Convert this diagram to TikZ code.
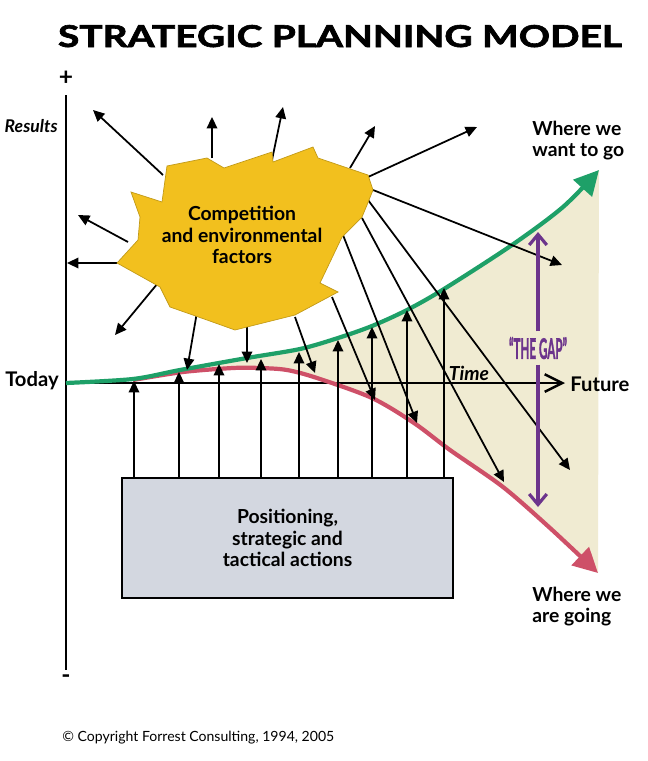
\documentclass[tikz,border=0pt]{standalone}
\usepackage{fontspec}
\setmainfont{Lato}
\newfontfamily\heavyfont[FakeBold=2]{Lato}
\usetikzlibrary{arrows.meta,positioning}
\definecolor{goalgreen}{RGB}{30,160,104}
\definecolor{driftred}{RGB}{206,80,104}
\definecolor{gappurple}{RGB}{108,52,140}
\definecolor{gapbeige}{RGB}{240,235,210}
\definecolor{forcegold}{RGB}{242,192,30}
\definecolor{actiongray}{RGB}{211,215,224}

\begin{document}
\begin{tikzpicture}[x=0.02cm,y=-0.02cm,
  every node/.style={font=\bfseries},
  ray/.style={-{Triangle[length=6.5pt,width=6pt]},line width=1pt},
  axis/.style={line width=1.4pt},
  trend/.style={line width=2.4pt,-{Triangle[length=14pt,width=14pt]}},
  gapline/.style={gappurple,line width=1.8pt,-{Straight Barb[length=6pt,width=10pt]}},
  endtext/.style={align=left,anchor=north west,inner sep=0pt,
    font=\bfseries\fontsize{11}{12}\selectfont},
  actbox/.style={draw,line width=0.9pt,fill=actiongray,align=center,
    minimum width=6.62cm,minimum height=2.4cm,
    font=\bfseries\fontsize{11}{12.2}\selectfont},
]
\useasboundingbox (0,0) rectangle (647,761);

% title
\node[anchor=base,inner sep=0pt] (title) at (340,47)
  {\resizebox{11.28cm}{0.44cm}{\heavyfont\bfseries STRATEGIC PLANNING MODEL}};

% the gap between the two curves
\fill[gapbeige] plot[smooth] coordinates {(180,370) (247,358) (300,349)
  (338,338) (372,326) (407,310) (444,289) (512,245) (563,207) (599,170)}
  -- plot[smooth] coordinates {(598,573) (550,528) (503,487) (450,450)
  (414,423) (372,398) (317,378) (287,370) (260,368) (233,368) (183,372)}
  -- cycle;

% axes
\coordinate (top) at (66,95);
\coordinate (bottom) at (66,670);
\coordinate (today) at (66,383);
\coordinate (future) at (565,383);
\draw[axis] (top) -- (bottom);
\draw[axis,-{Straight Barb[length=10pt,width=10pt]}] (today) -- (future);
\node[font=\bfseries\fontsize{14}{14}\selectfont] (plus) at (66,78) {+};
\node[font=\bfseries\fontsize{14}{14}\selectfont] (minus) at (66,679) {-};
\node[anchor=east,font=\bfseries\itshape\fontsize{10}{10}\selectfont,inner sep=0pt]
  (results) at (58,126) {Results};
\node[anchor=east,font=\bfseries\fontsize{11.5}{12}\selectfont,inner sep=0pt]
  (todaytext) at (59,381) {Today};
\node[anchor=west,font=\bfseries\fontsize{11.5}{12}\selectfont,inner sep=0pt]
  (futuretext) at (570,384) {Future};
\node[font=\bfseries\itshape\fontsize{11}{11}\selectfont,inner sep=0pt]
  (time) at (469,373) {Time};

% where we are going / where we want to go
\draw[trend,driftred] plot[smooth] coordinates {(133,380) (183,372) (233,368)
  (260,368) (287,370) (317,378) (372,398) (414,423) (450,450) (503,487)
  (550,528) (598,573)};
\draw[trend,goalgreen] plot[smooth] coordinates {(66,383) (133,379) (180,370)
  (247,358) (300,349) (338,338) (372,326) (407,310) (444,289) (512,245)
  (563,207) (599,170)};
\node[endtext] (wantgo) at (532,121) {Where we\\want to go};
\node[endtext] (aregoing) at (532,587) {Where we\\are going};

% the actions
\node[actbox] (actions) at (287.5,538)
  {Positioning,\\strategic and\\tactical actions};
\foreach \x/\y [count=\i] in {134/381,179/372,219/364,261/359,299/352,
  338/340,372/327,407/310,444/288}
{
  \coordinate (hit\i) at (\x,\y);
  \draw[ray] (hit\i |- actions.north) -- (hit\i);
}

% the environment
\foreach \sx/\sy/\ex/\ey [count=\i] in {163/175/93/110,212/158/212/117,
  272/160/283/107,350/168/375/126,368/177/477/127,373/190/562/265,
  368/200/570/470,362/218/504/482,343/235/417/423,332/297/375/400,
  295/317/315/373,247/327/247/363,197/312/187/370,158/283/115/335,
  117/263/67/263,128/242/78/215}
{
  \coordinate (src\i) at (\sx,\sy);
  \coordinate (dst\i) at (\ex,\ey);
  \draw[ray] (src\i) -- (dst\i);
}
\draw[fill=forcegold,draw=forcegold!80!black,line width=0.4pt]
  (131,192) -- (162,202) -- (167,166) -- (207,158) -- (224,168) -- (272,152)
  -- (273,162) -- (313,147) -- (318,158) -- (368,175) -- (373,190)
  -- (367,205) -- (362,217) -- (342,237) -- (320,283) -- (338,292)
  -- (295,315) -- (235,330) -- (207,320) -- (170,307) -- (160,287)
  -- (117,263) -- (138,240) -- (140,217) -- cycle;
\node[align=center,font=\bfseries\fontsize{11}{12.2}\selectfont] (forces)
  at (242,235) {Competition\\and environmental\\factors};

% the gap
\node[text=gappurple,inner xsep=0pt,inner ysep=3pt] (gap) at (538,348)
  {\resizebox{1.16cm}{0.44cm}{\heavyfont\bfseries “THE GAP”}};
\coordinate (gaptop) at (538,232);
\coordinate (gapbot) at (538,507);
\draw[gapline] (gap.north) -- (gaptop);
\draw[gapline] (gap.south) -- (gapbot);

% copyright
\node[anchor=west,font=\fontsize{8}{8}\selectfont,inner sep=0pt] (copy)
  at (62,738) {© Copyright Forrest Consulting, 1994, 2005};
\end{tikzpicture}
\end{document}
